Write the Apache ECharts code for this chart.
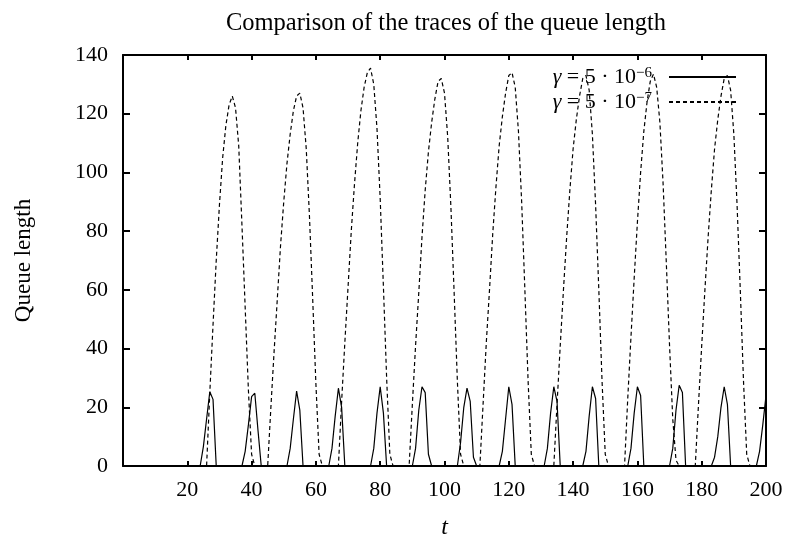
<!DOCTYPE html>
<html>
<head>
<meta charset="utf-8">
<script src="https://cdn.jsdelivr.net/npm/echarts@6/dist/echarts.min.js"></script>
<style>
  html, body { margin: 0; padding: 0; background: #fff; }
  #chart { width: 786px; height: 536px; }
</style>
</head>
<body>
<div id="chart"></div>
<script>
// queue length traces as [t, length]
const traceFast = [
  [0, 0], [24, 0], [25, 6.6], [26, 16], [27, 25.3], [28, 22.7], [29, 0],
  [37, 0], [38, 5], [39, 14], [40, 23.6], [41, 24.8], [42, 12], [43, 0],
  [51, 0], [52, 6], [53, 16], [54, 25.5], [55, 19], [56, 0],
  [64, 0], [65, 6], [66, 17], [67, 26.5], [68, 20], [69, 0],
  [77, 0], [78, 6], [79, 18], [80, 27], [81, 18], [82, 0],
  [90, 0], [91, 6], [92, 19], [93, 27], [94, 25], [95, 4], [96, 0],
  [104, 0], [105, 8], [106, 20], [107, 26.5], [108, 22], [109, 3], [110, 0],
  [117, 0], [118, 5], [119, 16], [120, 27], [121, 21], [122, 0],
  [131, 0], [132, 6], [133, 18], [134, 27], [135, 22], [136, 0],
  [143, 0], [144, 5], [145, 17], [146, 27], [147, 23], [148, 0],
  [157, 0], [158, 6], [159, 18], [160, 27], [161, 24], [162, 0],
  [170, 0], [171, 6], [172, 19], [173, 27.5], [174, 25], [175, 0],
  [183, 0], [184, 3], [185, 10], [186, 20], [187, 27], [188, 21], [189, 0],
  [197, 0], [198, 5], [199, 14], [200, 24]
];

const traceSlow = [
  [0, 0], [26, 0], [27, 25], [28, 48], [29, 70], [30, 89], [31, 105], [32, 116], [33, 123],
  [34, 126], [35, 122], [36, 109], [37, 82], [38, 54], [39, 26], [40, 4], [41, 0],
  [45, 0], [46, 20], [47, 39], [48, 57], [49, 75], [50, 90], [51, 103], [52, 113], [53, 121],
  [54, 126], [55, 127], [56, 122], [57, 108], [58, 85], [59, 57], [60, 28], [61, 4], [62, 0],
  [67, 0], [68, 22], [69, 42], [70, 61], [71, 80], [72, 96], [73, 110], [74, 121], [75, 129],
  [76, 134], [77, 135.5], [78, 130], [79, 115], [80, 91], [81, 61], [82, 30], [83, 4], [84, 0],
  [89, 0], [90, 21], [91, 41], [92, 59], [93, 78], [94, 94], [95, 107], [96, 117], [97, 125],
  [98, 131], [99, 132], [100, 127], [101, 112], [102, 88], [103, 59], [104, 29], [105, 4], [106, 0],
  [111, 0], [112, 21], [113, 42], [114, 60], [115, 79], [116, 95], [117, 109], [118, 119], [119, 127],
  [120, 133], [121, 134], [122, 129], [123, 114], [124, 90], [125, 60], [126, 29], [127, 4], [128, 0],
  [134, 0], [135, 21], [136, 41], [137, 60], [138, 78], [139, 94], [140, 108], [141, 118], [142, 126],
  [143, 132], [144, 133], [145, 128], [146, 113], [147, 89], [148, 60], [149, 29], [150, 4], [151, 0],
  [156, 0], [157, 23], [158, 44], [159, 64], [160, 83], [161, 100], [162, 114], [163, 124], [164, 131],
  [165, 133.5], [166, 129], [167, 117], [168, 96], [169, 69], [170, 41], [171, 16], [172, 2], [173, 0],
  [178, 0], [179, 21], [180, 41], [181, 60], [182, 78], [183, 94], [184, 108], [185, 118], [186, 126],
  [187, 132], [188, 133], [189, 128], [190, 113], [191, 89], [192, 60], [193, 29], [194, 4], [195, 0],
  [200, 0]
];

const seriesNames = ['fast', 'slow'];
const legendExponents = ['−6', '−7'];
const xRange = [0, 200, 20];
const yRange = [0, 140, 20];

const serif = '"Liberation Serif", "DejaVu Serif", serif';

const chart = echarts.init(document.getElementById('chart'));

// the top and right axes only close the frame and carry inward ticks
const frameLine = { show: true, onZero: false, lineStyle: { color: '#000', width: 2 } };
const xTick = { show: true, inside: true, length: 5, lineStyle: { color: '#000', width: 2 } };
const yTick = { show: true, inside: true, length: 7, lineStyle: { color: '#000', width: 2 } };

const option = {
  backgroundColor: '#fff',
  animation: false,
  title: {
    text: 'Comparison of the traces of the queue length',
    left: 441,
    textAlign: 'center',
    top: 6,
    textStyle: { fontFamily: serif, fontSize: 24.5, fontWeight: 'normal', color: '#000' }
  },
  grid: { left: 123, right: 20, top: 55, bottom: 70, outerBoundsMode: 'none' },
  legend: {
    orient: 'vertical',
    align: 'right',
    right: 44,
    top: 61,
    itemWidth: 67,
    itemHeight: 14,
    itemGap: 3,
    data: seriesNames,
    itemStyle: { opacity: 0 },
    formatter: name => {
      const exp = legendExponents[seriesNames.indexOf(name)];
      return '{i|γ}{n| = 5 · 10}{s|' + exp + '}';
    },
    textStyle: {
      padding: [0, 12, 0, 0],
      rich: {
        i: { fontFamily: serif, fontSize: 22, fontStyle: 'italic', color: '#000', lineHeight: 22 },
        n: { fontFamily: serif, fontSize: 22, color: '#000', lineHeight: 22 },
        s: { fontFamily: serif, fontSize: 15, color: '#000', lineHeight: 15, verticalAlign: 'top' }
      }
    }
  },
  xAxis: [
    {
      type: 'value',
      min: xRange[0], max: xRange[1], interval: xRange[2],
      name: 't',
      nameLocation: 'middle',
      nameGap: 50,
      nameTextStyle: { fontFamily: serif, fontSize: 24, fontStyle: 'italic', color: '#000' },
      axisLine: frameLine,
      axisTick: xTick,
      axisLabel: {
        margin: 13,
        fontFamily: serif, fontSize: 22, color: '#000',
        formatter: v => (v === 0 ? '' : String(v))
      },
      splitLine: { show: false }
    },
    {
      type: 'value', position: 'top',
      min: xRange[0], max: xRange[1], interval: xRange[2],
      axisLine: frameLine,
      axisTick: xTick,
      axisLabel: { show: false },
      splitLine: { show: false }
    }
  ],
  yAxis: [
    {
      type: 'value',
      min: yRange[0], max: yRange[1], interval: yRange[2],
      name: 'Queue length',
      nameLocation: 'middle',
      nameGap: 88,
      nameTextStyle: { fontFamily: serif, fontSize: 23, color: '#000' },
      axisLine: frameLine,
      axisTick: yTick,
      axisLabel: { margin: 15, fontFamily: serif, fontSize: 22, color: '#000' },
      splitLine: { show: false }
    },
    {
      type: 'value', position: 'right',
      min: yRange[0], max: yRange[1], interval: yRange[2],
      axisLine: frameLine,
      axisTick: yTick,
      axisLabel: { show: false },
      splitLine: { show: false }
    }
  ],
  series: [
    {
      name: seriesNames[0],
      type: 'line',
      data: traceFast,
      symbol: 'none',
      lineStyle: { color: '#000', width: 1.2 },
      itemStyle: { color: '#000' }
    },
    {
      name: seriesNames[1],
      type: 'line',
      data: traceSlow,
      symbol: 'none',
      lineStyle: { color: '#000', width: 1.2, type: [4, 3] },
      itemStyle: { color: '#000' }
    }
  ]
};

chart.setOption(option);
</script>
</body>
</html>
